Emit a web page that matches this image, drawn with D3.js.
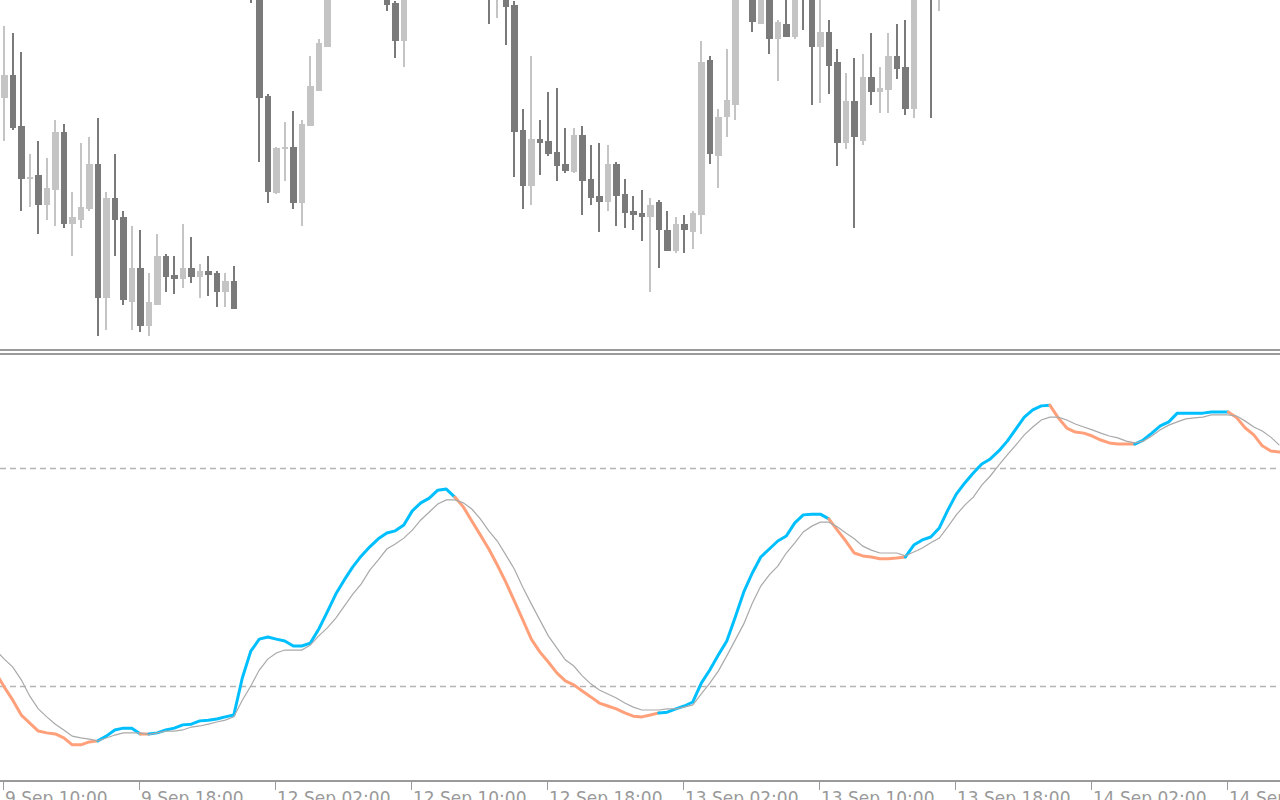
<!DOCTYPE html>
<html><head><meta charset="utf-8">
<script src="https://cdn.jsdelivr.net/npm/d3@7"></script>
<style>html,body{margin:0;padding:0;background:#fff;overflow:hidden}svg{display:block}</style>
</head><body>
<svg id="c" width="1280" height="800"></svg>
<script>
// ---- data (bar index -1 .. 150, 30-minute bars) ----
const firstBar = -1;
const openP = [1.01700,
1.01512,1.01625,1.01370,1.01105,1.01125,1.00975,1.01050,1.01340,1.00880,1.00900,
1.00955,1.01180,1.00510,1.01010,1.00915,1.00490,1.00660,1.00370,1.00475,1.00720,
1.00625,1.00605,1.00660,1.00615,1.00645,1.00635,1.00540,1.00595,1.02100,1.02350,
1.02125,1.01520,1.01035,1.01255,1.01265,1.00985,1.01370,1.01545,1.01767,1.02050,
1.02250,1.02180,1.02360,1.02430,1.02330,1.02075,1.01985,1.01795,1.02100,1.02300,
1.02400,1.02320,1.02460,1.02360,1.02240,1.02150,1.02200,1.02100,1.02015,1.02100,
1.01975,1.01350,1.01070,1.01305,1.01295,1.01240,1.01180,1.01140,1.01325,1.01105,
1.01020,1.00990,1.01180,1.01030,1.00945,1.00935,1.00915,1.00990,1.00850,1.00745,
1.00880,1.00840,1.00925,1.01700,1.01220,1.01415,1.01475,1.02050,1.02200,1.01880,
1.02075,1.01805,1.01880,1.01815,1.02200,1.02050,1.01765,1.01840,1.01690,1.01285,
1.01495,1.01295,1.01615,1.01540,1.01550,1.01720,1.01665,1.01455,1.02100,1.02300,
1.02040,1.02250,1.02380,1.02470,1.02430,1.02550,1.02600,1.02560,1.02670,1.02750,
1.02850,1.02920,1.02900,1.02980,1.03010,1.02880,1.02830,1.02900,1.02860,1.02800,
1.02850,1.02780,1.02840,1.02790,1.02870,1.02960,1.03030,1.03090,1.03050,1.03150,
1.03110,1.03190,1.03150,1.03220,1.03180,1.03240,1.03130,1.03060,1.03030,1.02960,
1.03010];
const highP = [1.01780,
1.01870,1.01835,1.01740,1.01230,1.01295,1.01210,1.01400,1.01380,1.01040,1.01285,
1.01315,1.01410,1.01040,1.01230,1.00945,1.00870,1.00850,1.00635,1.00830,1.00730,
1.00720,1.00880,1.00815,1.00680,1.00720,1.00645,1.00635,1.00670,1.02300,1.02450,
1.02200,1.01530,1.01265,1.01390,1.01445,1.01400,1.01720,1.01805,1.02100,1.02300,
1.02380,1.02420,1.02480,1.02470,1.02460,1.02200,1.01995,1.02150,1.02350,1.02450,
1.02480,1.02500,1.02490,1.02400,1.02280,1.02260,1.02230,1.02140,1.02200,1.02150,
1.01995,1.01455,1.01720,1.01400,1.01540,1.01560,1.01360,1.01360,1.01370,1.01275,
1.01285,1.01275,1.01190,1.01105,1.01020,1.01050,1.01010,1.01000,1.00945,1.00915,
1.00925,1.00945,1.01795,1.01720,1.01455,1.01755,1.02150,1.02250,1.02275,1.02150,
1.02125,1.01900,1.02025,1.02150,1.02250,1.02100,1.02025,1.01900,1.01755,1.01635,
1.01710,1.01730,1.01835,1.01665,1.01835,1.01880,1.01900,1.02200,1.02300,1.02400,
1.02350,1.02420,1.02510,1.02520,1.02580,1.02640,1.02650,1.02700,1.02790,1.02880,
1.02960,1.02990,1.03020,1.03050,1.03030,1.02940,1.02930,1.02960,1.02900,1.02880,
1.02890,1.02870,1.02880,1.02900,1.02990,1.03060,1.03120,1.03130,1.03180,1.03190,
1.03220,1.03230,1.03250,1.03260,1.03270,1.03260,1.03170,1.03110,1.03060,1.03050,
1.03040];
const lowP = [1.01480,
1.01297,1.01350,1.00947,1.00967,1.00830,1.00900,1.00870,1.00860,1.00720,1.00860,
1.00945,1.00320,1.00350,1.00720,1.00475,1.00350,1.00340,1.00320,1.00475,1.00540,
1.00530,1.00560,1.00585,1.00510,1.00520,1.00465,1.00465,1.00455,1.02025,1.01985,
1.01190,1.00985,1.01030,1.01095,1.00955,1.00870,1.01370,1.01545,1.01767,1.02025,
1.02120,1.02150,1.02280,1.02300,1.02270,1.01945,1.01710,1.01665,1.02060,1.02220,
1.02280,1.02290,1.02330,1.02200,1.02120,1.02100,1.02060,1.01880,1.01910,1.01775,
1.01115,1.00955,1.00975,1.01125,1.01220,1.01095,1.01135,1.01135,1.00925,1.00975,
1.00840,1.00945,1.00870,1.00860,1.00850,1.00795,1.00540,1.00660,1.00745,1.00735,
1.00735,1.00755,1.00830,1.01180,1.01060,1.01315,1.01400,1.02010,1.01840,1.01880,
1.01730,1.01595,1.01815,1.01805,1.01850,1.01475,1.01485,1.01530,1.01170,1.01255,
1.00860,1.01275,1.01475,1.01435,1.01435,1.01605,1.01425,1.01410,1.02050,1.01410,
1.01945,1.02200,1.02330,1.02390,1.02400,1.02480,1.02520,1.02530,1.02630,1.02710,
1.02800,1.02860,1.02870,1.02930,1.02850,1.02790,1.02800,1.02820,1.02760,1.02770,
1.02740,1.02750,1.02760,1.02770,1.02840,1.02920,1.03000,1.03010,1.03020,1.03080,
1.03090,1.03120,1.03130,1.03150,1.03160,1.03100,1.03020,1.02980,1.02920,1.02940,
1.02930];
const closeP = [1.01520,
1.01625,1.01360,1.01105,1.01115,1.00975,1.01062,1.01340,1.00880,1.00915,1.00965,
1.01180,1.00510,1.01010,1.00900,1.00500,1.00660,1.00370,1.00490,1.00720,1.00615,
1.00605,1.00660,1.00615,1.00645,1.00625,1.00540,1.00595,1.00455,1.02250,1.02150,
1.01512,1.01040,1.01260,1.01265,1.00985,1.01380,1.01570,1.01785,1.02050,1.02250,
1.02180,1.02360,1.02430,1.02330,1.02400,1.01975,1.01795,1.02100,1.02300,1.02400,
1.02320,1.02460,1.02360,1.02240,1.02150,1.02200,1.02100,1.02025,1.02125,1.01965,
1.01340,1.01070,1.01305,1.01285,1.01230,1.01170,1.01145,1.01325,1.01095,1.01010,
1.00990,1.01180,1.01020,1.00935,1.00925,1.00915,1.00975,1.00850,1.00745,1.00880,
1.00850,1.00935,1.01690,1.01230,1.01415,1.01500,1.02050,1.02200,1.01890,1.02075,
1.01805,1.01890,1.01815,1.02075,1.02050,1.01765,1.01840,1.01670,1.01285,1.01495,
1.01315,1.01615,1.01540,1.01560,1.01720,1.01655,1.01455,1.02100,1.02250,1.02025,
1.02250,1.02380,1.02470,1.02430,1.02550,1.02600,1.02560,1.02670,1.02750,1.02850,
1.02920,1.02900,1.02980,1.03010,1.02880,1.02830,1.02900,1.02860,1.02800,1.02850,
1.02780,1.02840,1.02790,1.02870,1.02960,1.03030,1.03090,1.03050,1.03150,1.03110,
1.03190,1.03150,1.03220,1.03180,1.03240,1.03130,1.03060,1.03030,1.02960,1.03010,
1.02970];
// stochastic-type oscillator: main line, signal line, main-line colour state (1 = up/blue, 0 = down/salmon)
const mainK = [23.6,
19.7,16.1,12.0,9.8,7.6,7.1,6.8,5.7,3.8,3.8,
4.6,4.9,6.2,7.9,8.4,8.4,6.8,6.8,7.1,7.9,
8.4,9.3,9.5,10.4,10.6,10.9,11.5,12.0,22.2,29.6,
32.9,33.5,32.9,32.4,31.0,31.0,31.8,35.7,40.4,45.3,
49.2,52.8,55.8,58.3,60.5,62.1,62.7,64.3,68.2,70.4,
71.7,73.9,74.2,72.0,69.3,65.4,61.6,57.7,53.3,48.6,
43.4,38.2,32.9,29.4,26.6,23.6,21.4,20.3,18.6,17.0,
15.3,14.5,13.7,12.6,11.7,11.5,12.0,12.6,12.8,13.7,
14.5,15.6,20.8,24.4,28.5,32.4,39.0,45.9,51.1,55.5,
57.7,59.9,61.3,64.9,67.1,67.3,67.3,66.0,62.9,59.9,
56.6,55.8,55.5,55.0,55.0,55.2,55.5,58.8,60.2,61.0,
63.5,68.4,72.8,75.9,78.6,81.1,82.5,84.7,87.4,90.7,
94.0,96.0,97.1,97.3,93.8,91.0,89.9,89.6,88.8,87.7,
86.9,86.6,86.6,86.6,87.7,89.6,91.6,92.7,95.1,95.1,
95.1,95.1,95.4,95.4,95.4,93.8,91.0,89.1,86.1,84.7,
84.4];
const signalD = [29.9,
27.4,25.2,21.7,17.2,13.7,11.5,9.5,7.9,6.2,5.7,
5.4,4.9,5.7,6.5,7.1,7.1,7.1,6.6,7.1,7.6,
7.6,7.9,8.7,9.0,9.5,10.1,10.6,11.5,16.1,20.0,
24.4,27.4,29.1,29.9,29.9,29.9,31.3,33.8,36.0,38.7,
42.0,45.3,48.1,51.9,54.7,57.7,59.1,60.7,62.9,65.7,
67.9,70.1,71.2,71.2,70.4,68.7,66.0,62.7,59.9,56.1,
52.2,47.2,42.6,38.2,33.8,30.5,27.2,25.5,22.8,20.6,
18.9,17.8,16.7,15.3,14.2,13.4,13.4,13.4,13.7,13.7,
14.2,14.8,17.8,20.8,24.1,28.3,32.7,37.1,42.8,47.5,
50.6,53.0,56.6,59.4,62.4,64.0,65.1,65.1,63.8,62.1,
60.5,58.5,57.4,56.6,56.6,56.6,55.8,56.9,58.0,59.4,
60.7,63.8,67.1,69.8,72.0,75.3,77.8,80.8,83.6,86.3,
89.1,91.3,93.2,94.0,94.0,93.2,92.1,91.3,90.5,89.6,
88.8,88.3,87.4,86.9,87.4,88.8,90.5,91.8,92.7,93.5,
93.8,94.0,94.6,94.6,94.6,94.3,92.9,91.3,90.2,88.5,
86.3];
const mainState = [0,
0,0,0,0,0,0,0,0,0,0,
0,0,1,1,1,1,1,0,1,1,
1,1,1,1,1,1,1,1,1,1,
1,1,1,1,1,1,1,1,1,1,
1,1,1,1,1,1,1,1,1,1,
1,1,1,1,0,0,0,0,0,0,
0,0,0,0,0,0,0,0,0,0,
0,0,0,0,0,0,0,0,1,1,
1,1,1,1,1,1,1,1,1,1,
1,1,1,1,1,1,1,1,0,0,
0,0,0,0,0,0,0,1,1,1,
1,1,1,1,1,1,1,1,1,1,
1,1,1,1,0,0,0,0,0,0,
0,0,0,0,1,1,1,1,1,1,
1,1,1,1,1,0,0,0,0,0,
0];
const levels = [80, 20];
const tickBars = [0, 16, 32, 48, 64, 80, 96, 112, 128, 144];
const tickLabels = ["9 Sep 10:00","9 Sep 18:00","12 Sep 02:00","12 Sep 10:00","12 Sep 18:00",
                    "13 Sep 02:00","13 Sep 10:00","13 Sep 18:00","14 Sep 02:00","14 Sep 10:00"];

// ---- drawing ----
const svg = d3.select("#c");
svg.append("rect").attr("width",1280).attr("height",800).attr("fill","#ffffff");
const bars = d3.range(openP.length).map(k => ({
  bar: firstBar + k, o: openP[k], h: highP[k], l: lowP[k], c: closeP[k],
  m: mainK[k], s: signalD[k], st: mainState[k]
}));
const x = d3.scaleLinear().domain([0, 150]).range([4.3, 1279.3]);
const yP = d3.scaleLinear().domain([1.00300, 1.02000]).range([340, 0]);
const yI = d3.scaleLinear().domain([20, 80]).range([686, 468]);

const defs = svg.append("defs");
defs.append("clipPath").attr("id","pc").append("rect").attr("x",0).attr("y",0).attr("width",1280).attr("height",347);
defs.append("clipPath").attr("id","ic").append("rect").attr("x",0).attr("y",356).attr("width",1280).attr("height",423);

const BULL = "#c4c4c4", BEAR = "#7a7a7a";
const gP = svg.append("g").attr("clip-path","url(#pc)").attr("shape-rendering","crispEdges");
gP.selectAll("rect.wick").data(bars).join("rect").attr("class","wick")
  .attr("x", d => x(d.bar) - 1).attr("width", 2)
  .attr("y", d => yP(d.h)).attr("height", d => Math.max(1, yP(d.l) - yP(d.h)))
  .attr("fill", d => d.c >= d.o ? BULL : BEAR);
gP.selectAll("rect.body").data(bars).join("rect").attr("class","body")
  .attr("x", d => x(d.bar) - 3.25).attr("width", 6.5)
  .attr("y", d => yP(Math.max(d.o, d.c)))
  .attr("height", d => Math.max(2, Math.abs(yP(d.o) - yP(d.c))))
  .attr("fill", d => d.c >= d.o ? BULL : BEAR);

// panel separators
const SEP = "#9a9a9a";
svg.append("rect").attr("x",0).attr("y",349).attr("width",1280).attr("height",2).attr("fill",SEP);
svg.append("rect").attr("x",0).attr("y",353).attr("width",1280).attr("height",2).attr("fill",SEP);

// indicator panel
const gI = svg.append("g").attr("clip-path","url(#ic)");
gI.selectAll("line.lvl").data(levels).join("line").attr("class","lvl")
  .attr("x1",0).attr("x2",1280).attr("y1", d => Math.round(yI(d)) + 0.5).attr("y2", d => Math.round(yI(d)) + 0.5)
  .attr("stroke","#b4b4b4").attr("stroke-width",1.5).attr("stroke-dasharray","6,4");

// main line split into coloured runs
const runs = [];
for (let k = 1; k < bars.length; k++) {
  const st = bars[k].st;
  if (runs.length && runs[runs.length-1].st === st) runs[runs.length-1].pts.push(bars[k]);
  else runs.push({st, pts: [bars[k-1], bars[k]]});
}
const lineM = d3.line().x(d => x(d.bar)).y(d => yI(d.m));
gI.selectAll("path.main").data(runs).join("path").attr("class","main")
  .attr("d", r => lineM(r.pts)).attr("fill","none")
  .attr("stroke", r => r.st ? "#00bfff" : "#ffa07a")
  .attr("stroke-width",3).attr("stroke-linejoin","round").attr("stroke-linecap","round");
const lineS = d3.line().x(d => x(d.bar)).y(d => yI(d.s));
gI.append("path").attr("d", lineS(bars)).attr("fill","none").attr("stroke","#a9a9a9").attr("stroke-width",1.2);

// time axis
svg.append("rect").attr("x",0).attr("y",780).attr("width",1280).attr("height",2).attr("fill",SEP);
const gx = svg.append("g");
gx.selectAll("rect.tick").data(tickBars).join("rect").attr("class","tick")
  .attr("x", d => Math.round(x(d)) - 1).attr("y",782).attr("width",1).attr("height",8).attr("fill",SEP);
gx.selectAll("text").data(tickBars).join("text")
  .attr("x", d => Math.round(x(d)) + 1).attr("y", 804)
  .attr("font-family","DejaVu Sans, sans-serif").attr("font-size",17).attr("fill","#999999")
  .text((d,i) => tickLabels[i]);
</script>
</body></html>
